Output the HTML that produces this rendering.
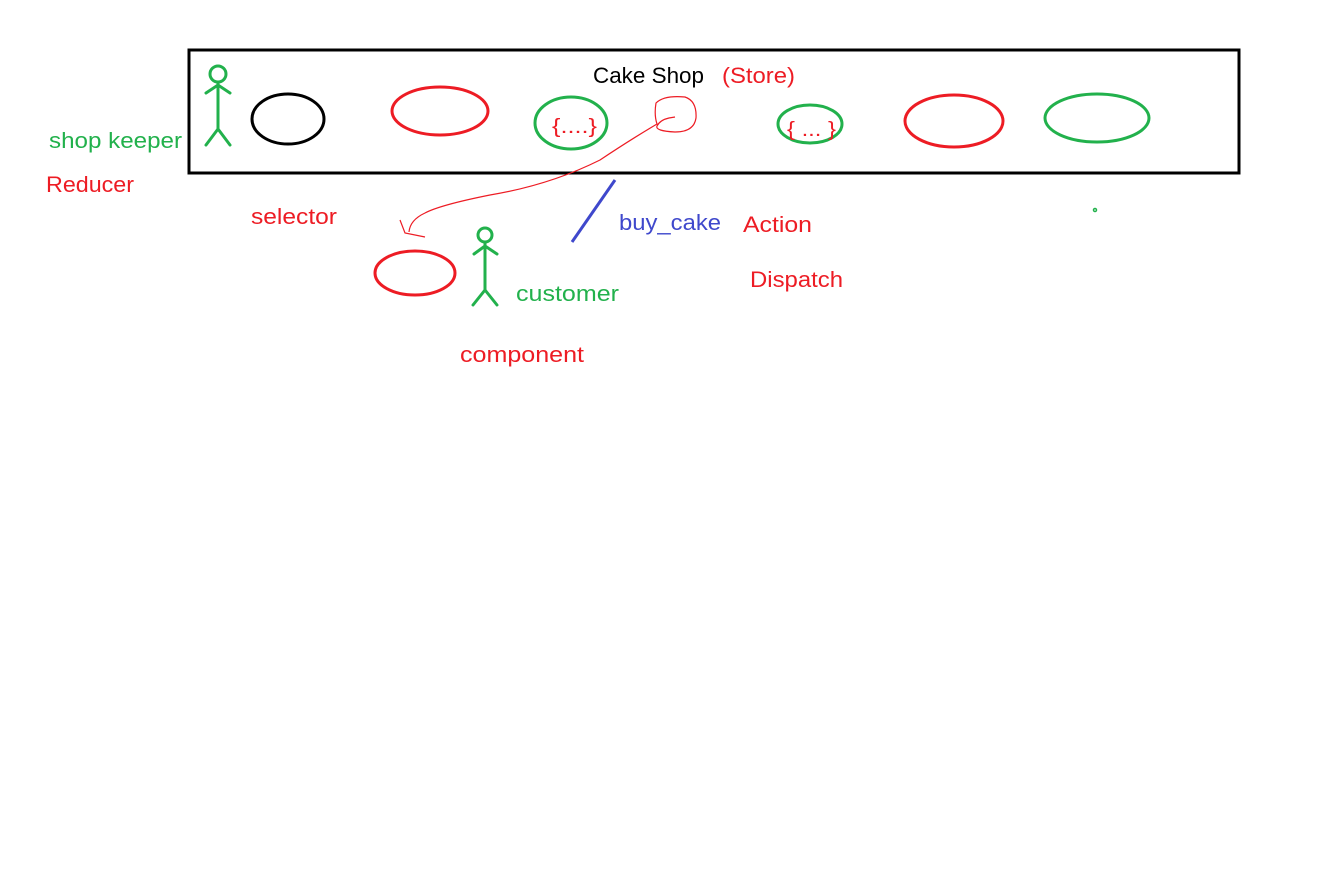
<!DOCTYPE html>
<html><head><meta charset="utf-8"><style>
html,body{margin:0;padding:0;background:#fff;width:1334px;height:878px;overflow:hidden}
svg{display:block}
text{font-family:"Liberation Sans",sans-serif;font-size:22px}
</style></head><body>
<svg width="1334" height="878" viewBox="0 0 1334 878">
<rect x="189" y="50" width="1050" height="123" fill="none" stroke="#000" stroke-width="3"/>
<g stroke="#22b14c" stroke-width="3" fill="none" stroke-linecap="round">
<circle cx="218" cy="74" r="8"/>
<path d="M218 82 L218 129 M206 93 L218 85 L230 93 M206 145 L218 129 L230 145"/>
<circle cx="485" cy="235" r="7"/>
<path d="M485 242 L485 290 M474 254 L485 246 L497 254 M473 305 L485 290 L497 305"/>
<ellipse cx="571" cy="123" rx="36" ry="26"/>
<ellipse cx="810" cy="124" rx="32" ry="19"/>
<ellipse cx="1097" cy="118" rx="52" ry="24"/>
<circle cx="1095" cy="210" r="1.5" stroke-width="1.5"/>
</g>
<ellipse cx="288" cy="119" rx="36" ry="25" fill="none" stroke="#000" stroke-width="3"/>
<g stroke="#ed1c24" stroke-width="3" fill="none">
<ellipse cx="440" cy="111" rx="48" ry="24"/>
<ellipse cx="954" cy="121" rx="49" ry="26"/>
<ellipse cx="415" cy="273" rx="40" ry="22"/>
</g>
<g stroke="#ed1c24" stroke-width="1.2" fill="none">
<path d="M675 117 L669 118 Q660 120 657 126 Q655 131 675 132 Q694 132 696 118 Q697 101 685 97 Q664 95 656 103 Q654 115 657 124 Q630 140 600 160 Q550 185 490 195 Q440 205 425 213 Q410 220 409 232"/>
<path d="M400 220 L405 233 L425 237"/>
</g>
<line x1="615" y1="180" x2="572" y2="242" stroke="#3f48cc" stroke-width="3"/>
<text x="593" y="83" fill="#000" textLength="111" lengthAdjust="spacingAndGlyphs">Cake Shop</text>
<text x="722" y="83" fill="#ed1c24" textLength="73" lengthAdjust="spacingAndGlyphs">(Store)</text>
<text x="49" y="148" fill="#22b14c" textLength="133" lengthAdjust="spacingAndGlyphs">shop keeper</text>
<text x="46" y="192" fill="#ed1c24" textLength="88" lengthAdjust="spacingAndGlyphs">Reducer</text>
<text x="251" y="224" fill="#ed1c24" textLength="86" lengthAdjust="spacingAndGlyphs">selector</text>
<text x="619" y="230" fill="#3f48cc" textLength="102" lengthAdjust="spacingAndGlyphs">buy_cake</text>
<text x="743" y="232" fill="#ed1c24" textLength="69" lengthAdjust="spacingAndGlyphs">Action</text>
<text x="750" y="287" fill="#ed1c24" textLength="93" lengthAdjust="spacingAndGlyphs">Dispatch</text>
<text x="516" y="301" fill="#22b14c" textLength="103" lengthAdjust="spacingAndGlyphs">customer</text>
<text x="460" y="362" fill="#ed1c24" textLength="124" lengthAdjust="spacingAndGlyphs">component</text>
<text x="552" y="133" fill="#ed1c24" style="font-size:20px" textLength="45" lengthAdjust="spacingAndGlyphs">{....}</text>
<text x="787" y="136" fill="#ed1c24" style="font-size:20px" textLength="49" lengthAdjust="spacingAndGlyphs">{ ... }</text>
</svg>
</body></html>
